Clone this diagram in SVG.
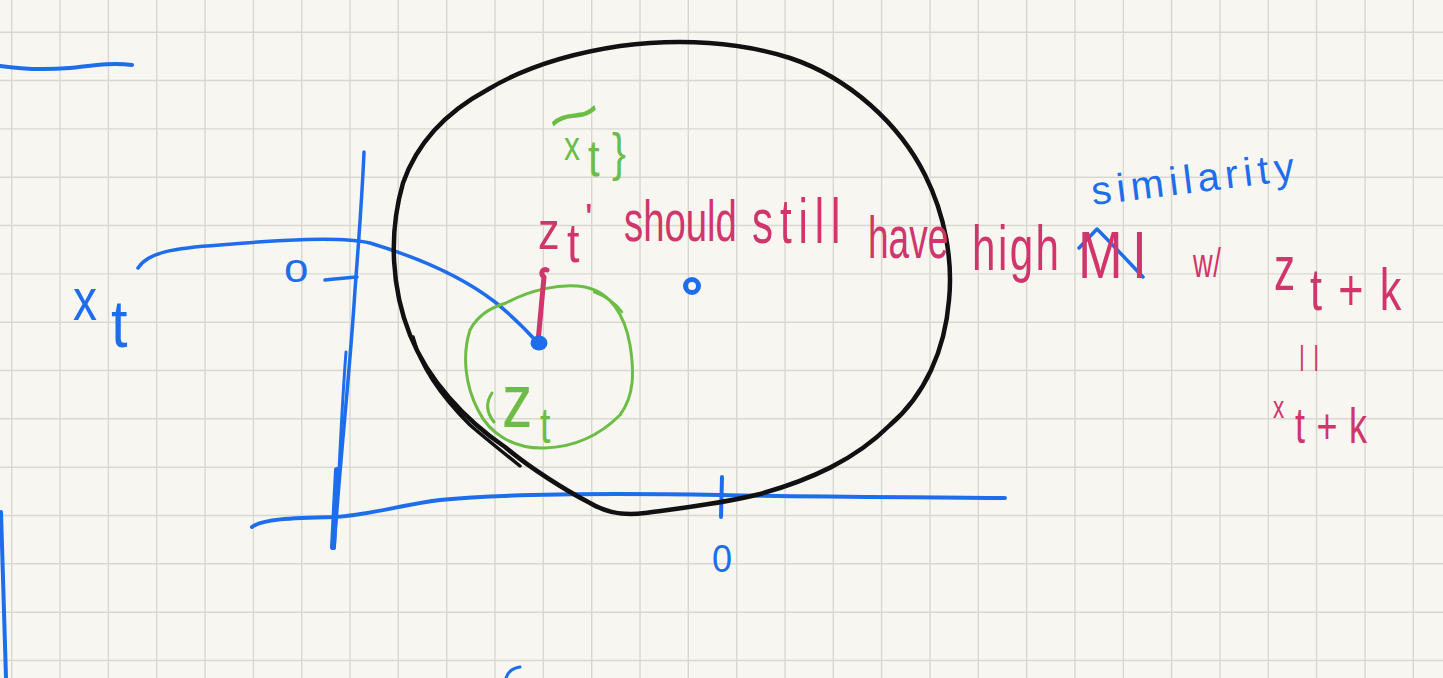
<svg xmlns="http://www.w3.org/2000/svg" width="1443" height="678" viewBox="0 0 1443 678">
<style>
.grid{stroke:#d9d7d1;stroke-width:1.4;fill:none}
.ln{fill:none;stroke-linecap:round;stroke-linejoin:round}
.blue{stroke:#1e6eeb}
.blk{stroke:#111111}
.grn{stroke:#6cbd45}
.pnk{stroke:#d0356c}
.t{font-family:"Liberation Sans",Arial,sans-serif}
.tb{fill:#1e6eeb}
.tg{fill:#6cbd45}
.tp{fill:#d0356c}
</style>
<rect width="1443" height="678" fill="#f7f6f1"/>
<g id="grid">
<path class="grid" d="M11.7,0V678M60,0V678M108.4,0V678M156.7,0V678M205,0V678M253.4,0V678M301.7,0V678M350,0V678M398.3,0V678M446.7,0V678M495,0V678M543.3,0V678M591.7,0V678M640,0V678M688.3,0V678M736.7,0V678M785,0V678M833.3,0V678M881.6,0V678M930,0V678M978.3,0V678M1026.6,0V678M1075,0V678M1123.3,0V678M1171.6,0V678M1220,0V678M1268.3,0V678M1316.6,0V678M1365,0V678M1413.3,0V678"/>
<path class="grid" d="M0,32.2H1443M0,80.5H1443M0,128.9H1443M0,177.2H1443M0,225.5H1443M0,273.9H1443M0,322.2H1443M0,370.5H1443M0,418.8H1443M0,467.2H1443M0,515.5H1443M0,563.8H1443M0,612.2H1443M0,660.5H1443"/>
</g>
<g id="connectors">
<path class="ln blue" stroke-width="4" d="M0,66 C20,69 45,70 70,68 C90,66 110,62 132,65"/>
<path class="ln blue" stroke-width="4" d="M1,512 L6,678"/>
<path class="ln blue" stroke-width="3" d="M506,678 C508,672 512,668 520,667"/>
<path class="ln blue" stroke-width="3.5" d="M364,152 C362,200 358,250 355,290 C350,370 341,450 334,548"/>
<path class="ln blue" stroke-width="3" d="M346,352 C343,390 341,430 339,470"/>
<path class="ln blue" stroke-width="6" d="M337,470 L333,547"/>
<path class="ln blue" stroke-width="3.5" d="M325,280 C335,279 345,278 357,277"/>
<path class="ln blue" stroke-width="4" d="M252,527 C262,519 290,518 335,517 C370,515 400,505 440,500 C500,494 600,493 720,495 C820,497 920,497 1005,498"/>
<path class="ln blue" stroke-width="4" d="M722,477 L721,517"/>
<path class="ln blue" stroke-width="3.5" d="M138,268 C148,252 175,248 220,245 C280,240 340,236 370,243 C410,255 460,275 495,302 C515,318 528,332 538,343"/>
<path class="ln blue" stroke-width="3.5" d="M1079,248 L1097,229 C1110,242 1125,258 1143,277"/>
</g>
<g id="outer-circle">
<path class="ln blk" stroke-width="4.5" d="M487,90 C520,70 560,55 620,46 C680,38 740,42 790,58 C850,78 900,125 925,175 C945,215 953,260 949,300 C945,350 925,395 890,425 C855,460 810,480 760,494 C720,504 675,509 645,513 C625,516 605,512 590,503 C565,490 530,468 505,447 C465,420 428,380 410,335 C392,290 388,235 403,183 C418,140 450,110 487,90 Z"/>
<path class="ln blk" stroke-width="3.5" d="M413,337 C420,365 440,395 470,425 C485,438 500,450 520,466"/>
</g>
<g id="inner-circle">
<path class="ln grn" stroke-width="3" d="M506,303 C530,290 560,283 585,287 C610,292 625,315 630,345 C634,370 635,395 620,415 C600,435 575,447 545,448 C515,449 490,435 478,410 C465,385 462,355 470,330 C478,315 490,308 506,303 Z"/>
<path class="ln grn" stroke-width="2.5" d="M594,292 C605,296 615,302 622,312"/>
<path class="ln grn" stroke-width="3" d="M492,393 C486,402 486,412 494,422"/>
<text class="t tg" transform="translate(502,427) scale(0.8,1)" font-size="76">z</text>
<text class="t tg" transform="translate(540,443) scale(0.75,1)" font-size="50">t</text>
</g>
<g id="points">
<path class="ln pnk" stroke-width="5" d="M547,270 C542,268 540,274 544,277 L538,342"/>
<ellipse cx="539" cy="343" rx="8.5" ry="7.5" fill="#1e6eeb"/>
<circle cx="692" cy="286" r="6.5" fill="none" stroke="#1e6eeb" stroke-width="5"/>
</g>
<g id="label-xt">
<text class="t tb" transform="translate(73,320) scale(0.8,1)" font-size="60">x</text>
<text class="t tb" transform="translate(111,347) scale(0.9,1)" font-size="66">t</text>
</g>
<g id="axis-labels">
<text class="t tb" transform="translate(284,282) scale(1.1,1)" font-size="40">o</text>
<text class="t tb" transform="translate(712,572) scale(0.95,1)" font-size="38">0</text>
</g>
<g id="label-xtilde">
<text class="t tg" transform="translate(574,116) rotate(-20)" text-anchor="middle" y="21" font-size="64" textLength="54" lengthAdjust="spacingAndGlyphs">~</text>
<text class="t tg" transform="translate(564,160) scale(0.8,1)" font-size="40">x</text>
<text class="t tg" transform="translate(588,176) scale(0.8,1)" font-size="52">t</text>
<text class="t tg" transform="translate(612,170) scale(0.8,1)" font-size="52">}</text>
</g>
<g id="sentence">
<text class="t tp" transform="translate(538,249) scale(0.8,1)" font-size="54">z</text>
<text class="t tp" transform="translate(567,262) scale(0.8,1)" font-size="56">t</text>
<text class="t tp" transform="translate(585,232)" font-size="40">'</text>
<text class="t tp" transform="translate(624,241) scale(0.68,1)" font-size="58" textLength="166" lengthAdjust="spacingAndGlyphs">should</text>
<text class="t tp" transform="translate(752,243) scale(0.68,1)" font-size="62" textLength="130" lengthAdjust="spacing">still</text>
<text class="t tp" transform="translate(868,258) scale(0.68,1)" font-size="60" textLength="118" lengthAdjust="spacingAndGlyphs">have</text>
<text class="t tp" transform="translate(972,270) scale(0.68,1)" font-size="62" textLength="128" lengthAdjust="spacing">high</text>
<text class="t tp" transform="translate(1078,278) scale(0.8,1)" font-size="67" textLength="86" lengthAdjust="spacing">MI</text>
<text class="t tp" transform="translate(1193,277) scale(0.68,1)" font-size="40" textLength="41" lengthAdjust="spacing">w/</text>
<text class="t tp" transform="translate(1274,290) scale(0.68,1)" font-size="62">z</text>
<text class="t tp" transform="translate(1310,310) scale(0.72,1)" font-size="60" textLength="127" lengthAdjust="spacing">t+k</text>
</g>
<g id="label-similarity">
<text class="t tb" transform="translate(1093,205) rotate(-7)" font-size="40" textLength="204" lengthAdjust="spacing">similarity</text>
</g>
<g id="label-equal">
<text class="t tp" transform="translate(1299,365) scale(0.8,1)" font-size="28" textLength="25" lengthAdjust="spacing">||</text>
<text class="t tp" transform="translate(1273,418) scale(0.7,1)" font-size="32">x</text>
<text class="t tp" transform="translate(1295,443) scale(0.72,1)" font-size="50" textLength="100" lengthAdjust="spacing">t+k</text>
</g>
</svg>
